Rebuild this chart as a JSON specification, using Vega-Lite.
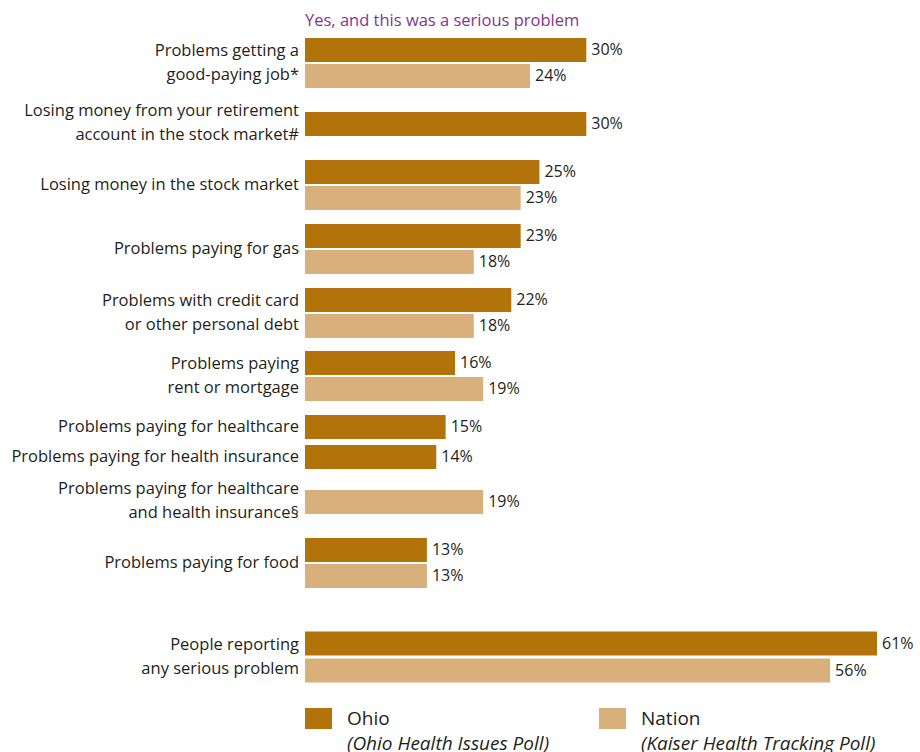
{
  "$schema": "https://vega.github.io/schema/vega-lite/v6.json",
  "background": "white",
  "padding": {"left": 11, "top": 12, "right": 5, "bottom": 5},
  "bounds": "flush",
  "spacing": 0,
  "config": {
    "view": {"stroke": null},
    "font": "Open Sans",
    "text": {"font": "Open Sans", "fontSize": 16, "color": "#231f20"}
  },
  "data": {
    "values": [
      {"group": "job", "label": "Problems getting a\ngood-paying job*", "source": "Ohio", "value": 0.30},
      {"group": "job", "label": "Problems getting a\ngood-paying job*", "source": "Nation", "value": 0.24},
      {"group": "retire", "label": "Losing money from your retirement\naccount in the stock market#", "source": "Ohio", "value": 0.30},
      {"group": "stock", "label": "Losing money in the stock market", "source": "Ohio", "value": 0.25},
      {"group": "stock", "label": "Losing money in the stock market", "source": "Nation", "value": 0.23},
      {"group": "gas", "label": "Problems paying for gas", "source": "Ohio", "value": 0.23},
      {"group": "gas", "label": "Problems paying for gas", "source": "Nation", "value": 0.18},
      {"group": "credit", "label": "Problems with credit card\nor other personal debt", "source": "Ohio", "value": 0.22},
      {"group": "credit", "label": "Problems with credit card\nor other personal debt", "source": "Nation", "value": 0.18},
      {"group": "rent", "label": "Problems paying\nrent or mortgage", "source": "Ohio", "value": 0.16},
      {"group": "rent", "label": "Problems paying\nrent or mortgage", "source": "Nation", "value": 0.19},
      {"group": "health", "label": "Problems paying for healthcare", "source": "Ohio", "value": 0.15},
      {"group": "health", "label": "Problems paying for health insurance", "source": "Ohio", "value": 0.14},
      {"group": "combo", "label": "Problems paying for healthcare\nand health insurance§", "source": "Nation", "value": 0.19},
      {"group": "food", "label": "Problems paying for food", "source": "Ohio", "value": 0.13},
      {"group": "food", "label": "Problems paying for food", "source": "Nation", "value": 0.13},
      {"group": "any", "label": "People reporting\nany serious problem", "source": "Ohio", "value": 0.61},
      {"group": "any", "label": "People reporting\nany serious problem", "source": "Nation", "value": 0.56}
    ]
  },
  "vconcat": [
    {
      "width": 572, "height": 72,
      "title": {"text": "Yes, and this was a serious problem", "anchor": "start", "frame": "group", "color": "#83358f", "fontSize": 16.5, "fontWeight": "normal", "font": "Open Sans", "baseline": "alphabetic", "offset": -15},
      "transform": [{"filter": "datum.group === 'job'"}],
      "layer": [
        {"mark": {"type": "bar", "size": 24}, "encoding": {
          "y": {"field": "source", "type": "nominal", "scale": {"domain": ["Ohio", "Nation"], "paddingInner": 0, "paddingOuter": 0.3846}, "axis": null},
          "x": {"field": "value", "type": "quantitative", "scale": {"domain": [0, 0.61], "nice": false}, "axis": null},
          "color": {"field": "source", "type": "nominal", "scale": {"domain": ["Ohio", "Nation"], "range": ["#b3730b", "#d9b07b"]}, "legend": null}}},
        {"mark": {"type": "text", "align": "left", "baseline": "middle", "dx": 5}, "encoding": {
          "y": {"field": "source", "type": "nominal"},
          "x": {"field": "value", "type": "quantitative"},
          "text": {"field": "value", "type": "quantitative", "format": ".0%"}}},
        {"transform": [{"filter": "datum.source === 'Ohio'"}], "mark": {"type": "text", "align": "right", "baseline": "middle", "dx": -6, "dy": -12, "fontSize": 16.5, "lineBreak": "\n", "lineHeight": 24}, "encoding": {
          "x": {"datum": 0, "type": "quantitative"},
          "text": {"field": "label"}}}
      ]
    },
    {
      "width": 572, "height": 50,
      "transform": [{"filter": "datum.group === 'retire'"}],
      "layer": [
        {"mark": {"type": "bar", "size": 24}, "encoding": {
          "y": {"field": "source", "type": "nominal", "scale": {"domain": ["Ohio"], "paddingInner": 0, "paddingOuter": 0.4615}, "axis": null},
          "x": {"field": "value", "type": "quantitative", "scale": {"domain": [0, 0.61], "nice": false}, "axis": null},
          "color": {"field": "source", "type": "nominal", "scale": {"domain": ["Ohio", "Nation"], "range": ["#b3730b", "#d9b07b"]}, "legend": null}}},
        {"mark": {"type": "text", "align": "left", "baseline": "middle", "dx": 5}, "encoding": {
          "y": {"field": "source", "type": "nominal"},
          "x": {"field": "value", "type": "quantitative"},
          "text": {"field": "value", "type": "quantitative", "format": ".0%"}}},
        {"mark": {"type": "text", "align": "right", "baseline": "middle", "dx": -6, "dy": -13, "fontSize": 16.5, "lineBreak": "\n", "lineHeight": 24}, "encoding": {
          "x": {"datum": 0, "type": "quantitative"},
          "text": {"field": "label"}}}
      ]
    },
    {
      "width": 572, "height": 72,
      "transform": [{"filter": "datum.group === 'stock'"}],
      "layer": [
        {"mark": {"type": "bar", "size": 24}, "encoding": {
          "y": {"field": "source", "type": "nominal", "scale": {"domain": ["Ohio", "Nation"], "paddingInner": 0, "paddingOuter": 0.3846}, "axis": null},
          "x": {"field": "value", "type": "quantitative", "scale": {"domain": [0, 0.61], "nice": false}, "axis": null},
          "color": {"field": "source", "type": "nominal", "scale": {"domain": ["Ohio", "Nation"], "range": ["#b3730b", "#d9b07b"]}, "legend": null}}},
        {"mark": {"type": "text", "align": "left", "baseline": "middle", "dx": 5}, "encoding": {
          "y": {"field": "source", "type": "nominal"},
          "x": {"field": "value", "type": "quantitative"},
          "text": {"field": "value", "type": "quantitative", "format": ".0%"}}},
        {"transform": [{"filter": "datum.source === 'Ohio'"}], "mark": {"type": "text", "align": "right", "baseline": "middle", "dx": -6, "fontSize": 16.5, "lineBreak": "\n", "lineHeight": 24}, "encoding": {
          "x": {"datum": 0, "type": "quantitative"},
          "text": {"field": "label"}}}
      ]
    },
    {
      "width": 572, "height": 56,
      "transform": [{"filter": "datum.group === 'gas'"}],
      "layer": [
        {"mark": {"type": "bar", "size": 24}, "encoding": {
          "y": {"field": "source", "type": "nominal", "scale": {"domain": ["Ohio", "Nation"], "paddingInner": 0, "paddingOuter": 0.0769}, "axis": null},
          "x": {"field": "value", "type": "quantitative", "scale": {"domain": [0, 0.61], "nice": false}, "axis": null},
          "color": {"field": "source", "type": "nominal", "scale": {"domain": ["Ohio", "Nation"], "range": ["#b3730b", "#d9b07b"]}, "legend": null}}},
        {"mark": {"type": "text", "align": "left", "baseline": "middle", "dx": 5}, "encoding": {
          "y": {"field": "source", "type": "nominal"},
          "x": {"field": "value", "type": "quantitative"},
          "text": {"field": "value", "type": "quantitative", "format": ".0%"}}},
        {"transform": [{"filter": "datum.source === 'Ohio'"}], "mark": {"type": "text", "align": "right", "baseline": "middle", "dx": -6, "fontSize": 16.5, "lineBreak": "\n", "lineHeight": 24}, "encoding": {
          "x": {"datum": 0, "type": "quantitative"},
          "text": {"field": "label"}}}
      ]
    },
    {
      "width": 572, "height": 72,
      "transform": [{"filter": "datum.group === 'credit'"}],
      "layer": [
        {"mark": {"type": "bar", "size": 24}, "encoding": {
          "y": {"field": "source", "type": "nominal", "scale": {"domain": ["Ohio", "Nation"], "paddingInner": 0, "paddingOuter": 0.3846}, "axis": null},
          "x": {"field": "value", "type": "quantitative", "scale": {"domain": [0, 0.61], "nice": false}, "axis": null},
          "color": {"field": "source", "type": "nominal", "scale": {"domain": ["Ohio", "Nation"], "range": ["#b3730b", "#d9b07b"]}, "legend": null}}},
        {"mark": {"type": "text", "align": "left", "baseline": "middle", "dx": 5}, "encoding": {
          "y": {"field": "source", "type": "nominal"},
          "x": {"field": "value", "type": "quantitative"},
          "text": {"field": "value", "type": "quantitative", "format": ".0%"}}},
        {"transform": [{"filter": "datum.source === 'Ohio'"}], "mark": {"type": "text", "align": "right", "baseline": "middle", "dx": -6, "dy": -12, "fontSize": 16.5, "lineBreak": "\n", "lineHeight": 24}, "encoding": {
          "x": {"datum": 0, "type": "quantitative"},
          "text": {"field": "label"}}}
      ]
    },
    {
      "width": 572, "height": 54,
      "transform": [{"filter": "datum.group === 'rent'"}],
      "layer": [
        {"mark": {"type": "bar", "size": 24}, "encoding": {
          "y": {"field": "source", "type": "nominal", "scale": {"domain": ["Ohio", "Nation"], "paddingInner": 0, "paddingOuter": 0.0385}, "axis": null},
          "x": {"field": "value", "type": "quantitative", "scale": {"domain": [0, 0.61], "nice": false}, "axis": null},
          "color": {"field": "source", "type": "nominal", "scale": {"domain": ["Ohio", "Nation"], "range": ["#b3730b", "#d9b07b"]}, "legend": null}}},
        {"mark": {"type": "text", "align": "left", "baseline": "middle", "dx": 5}, "encoding": {
          "y": {"field": "source", "type": "nominal"},
          "x": {"field": "value", "type": "quantitative"},
          "text": {"field": "value", "type": "quantitative", "format": ".0%"}}},
        {"transform": [{"filter": "datum.source === 'Ohio'"}], "mark": {"type": "text", "align": "right", "baseline": "middle", "dx": -6, "dy": -12, "fontSize": 16.5, "lineBreak": "\n", "lineHeight": 24}, "encoding": {
          "x": {"datum": 0, "type": "quantitative"},
          "text": {"field": "label"}}}
      ]
    },
    {
      "width": 572, "height": 78,
      "transform": [{"filter": "datum.group === 'health'"}],
      "layer": [
        {"mark": {"type": "bar", "size": 24}, "encoding": {
          "y": {"field": "label", "type": "nominal", "scale": {"domain": ["Problems paying for healthcare", "Problems paying for health insurance"], "paddingInner": 0, "paddingOuter": 0.3}, "axis": null},
          "x": {"field": "value", "type": "quantitative", "scale": {"domain": [0, 0.61], "nice": false}, "axis": null},
          "color": {"field": "source", "type": "nominal", "scale": {"domain": ["Ohio", "Nation"], "range": ["#b3730b", "#d9b07b"]}, "legend": null}}},
        {"mark": {"type": "text", "align": "left", "baseline": "middle", "dx": 5}, "encoding": {
          "y": {"field": "label", "type": "nominal"},
          "x": {"field": "value", "type": "quantitative"},
          "text": {"field": "value", "type": "quantitative", "format": ".0%"}}},
        {"mark": {"type": "text", "align": "right", "baseline": "middle", "dx": -6, "fontSize": 16.5}, "encoding": {
          "y": {"field": "label", "type": "nominal"},
          "x": {"datum": 0, "type": "quantitative"},
          "text": {"field": "label"}}}
      ]
    },
    {
      "width": 572, "height": 42,
      "transform": [{"filter": "datum.group === 'combo'"}],
      "layer": [
        {"mark": {"type": "bar", "size": 24}, "encoding": {
          "y": {"field": "source", "type": "nominal", "scale": {"domain": ["Nation"], "paddingInner": 0, "paddingOuter": 0.3077}, "axis": null},
          "x": {"field": "value", "type": "quantitative", "scale": {"domain": [0, 0.61], "nice": false}, "axis": null},
          "color": {"field": "source", "type": "nominal", "scale": {"domain": ["Ohio", "Nation"], "range": ["#b3730b", "#d9b07b"]}, "legend": null}}},
        {"mark": {"type": "text", "align": "left", "baseline": "middle", "dx": 5}, "encoding": {
          "y": {"field": "source", "type": "nominal"},
          "x": {"field": "value", "type": "quantitative"},
          "text": {"field": "value", "type": "quantitative", "format": ".0%"}}},
        {"mark": {"type": "text", "align": "right", "baseline": "middle", "dx": -6, "dy": -13, "fontSize": 16.5, "lineBreak": "\n", "lineHeight": 24}, "encoding": {
          "x": {"datum": 0, "type": "quantitative"},
          "text": {"field": "label"}}}
      ]
    },
    {
      "width": 572, "height": 80,
      "transform": [{"filter": "datum.group === 'food'"}],
      "layer": [
        {"mark": {"type": "bar", "size": 24}, "encoding": {
          "y": {"field": "source", "type": "nominal", "scale": {"domain": ["Ohio", "Nation"], "paddingInner": 0, "paddingOuter": 0.5385}, "axis": null},
          "x": {"field": "value", "type": "quantitative", "scale": {"domain": [0, 0.61], "nice": false}, "axis": null},
          "color": {"field": "source", "type": "nominal", "scale": {"domain": ["Ohio", "Nation"], "range": ["#b3730b", "#d9b07b"]}, "legend": null}}},
        {"mark": {"type": "text", "align": "left", "baseline": "middle", "dx": 5}, "encoding": {
          "y": {"field": "source", "type": "nominal"},
          "x": {"field": "value", "type": "quantitative"},
          "text": {"field": "value", "type": "quantitative", "format": ".0%"}}},
        {"transform": [{"filter": "datum.source === 'Ohio'"}], "mark": {"type": "text", "align": "right", "baseline": "middle", "dx": -6, "fontSize": 16.5, "lineBreak": "\n", "lineHeight": 24}, "encoding": {
          "x": {"datum": 0, "type": "quantitative"},
          "text": {"field": "label"}}}
      ]
    },
    {
      "width": 572, "height": 108,
      "transform": [{"filter": "datum.group === 'any'"}],
      "layer": [
        {"mark": {"type": "bar", "size": 24}, "encoding": {
          "y": {"field": "source", "type": "nominal", "scale": {"domain": ["Ohio", "Nation"], "paddingInner": 0, "paddingOuter": 1.0769}, "axis": null},
          "x": {"field": "value", "type": "quantitative", "scale": {"domain": [0, 0.61], "nice": false}, "axis": null},
          "color": {"field": "source", "type": "nominal", "scale": {"domain": ["Ohio", "Nation"], "range": ["#b3730b", "#d9b07b"]}, "legend": null}}},
        {"mark": {"type": "text", "align": "left", "baseline": "middle", "dx": 5}, "encoding": {
          "y": {"field": "source", "type": "nominal"},
          "x": {"field": "value", "type": "quantitative"},
          "text": {"field": "value", "type": "quantitative", "format": ".0%"}}},
        {"transform": [{"filter": "datum.source === 'Ohio'"}], "mark": {"type": "text", "align": "right", "baseline": "middle", "dx": -6, "dy": -12, "fontSize": 16.5, "lineBreak": "\n", "lineHeight": 24}, "encoding": {
          "x": {"datum": 0, "type": "quantitative"},
          "text": {"field": "label"}}}
      ]
    },
    {
      "width": 294, "height": 15,
      "data": {"values": [
        {"source": "Ohio", "poll": "(Ohio Health Issues Poll)"},
        {"source": "Nation", "poll": "(Kaiser Health Tracking Poll)"}
      ]},
      "layer": [
        {"mark": {"type": "point", "shape": "M0,-0.778H2V0.778H0Z", "size": 729, "filled": true, "opacity": 1, "strokeWidth": 0}, "encoding": {
          "x": {"field": "source", "type": "nominal", "scale": {"type": "point", "domain": ["Ohio", "Nation"], "padding": 0}, "axis": null},
          "color": {"field": "source", "type": "nominal", "scale": {"domain": ["Ohio", "Nation"], "range": ["#b3730b", "#d9b07b"]}, "legend": null}}},
        {"mark": {"type": "text", "align": "left", "baseline": "middle", "dx": 42, "fontSize": 19}, "encoding": {
          "x": {"field": "source", "type": "nominal"},
          "text": {"field": "source"}}},
        {"mark": {"type": "text", "align": "left", "baseline": "middle", "dx": 42, "dy": 25, "fontSize": 19, "fontStyle": "italic"}, "encoding": {
          "x": {"field": "source", "type": "nominal"},
          "text": {"field": "poll"}}}
      ]
    }
  ]
}
